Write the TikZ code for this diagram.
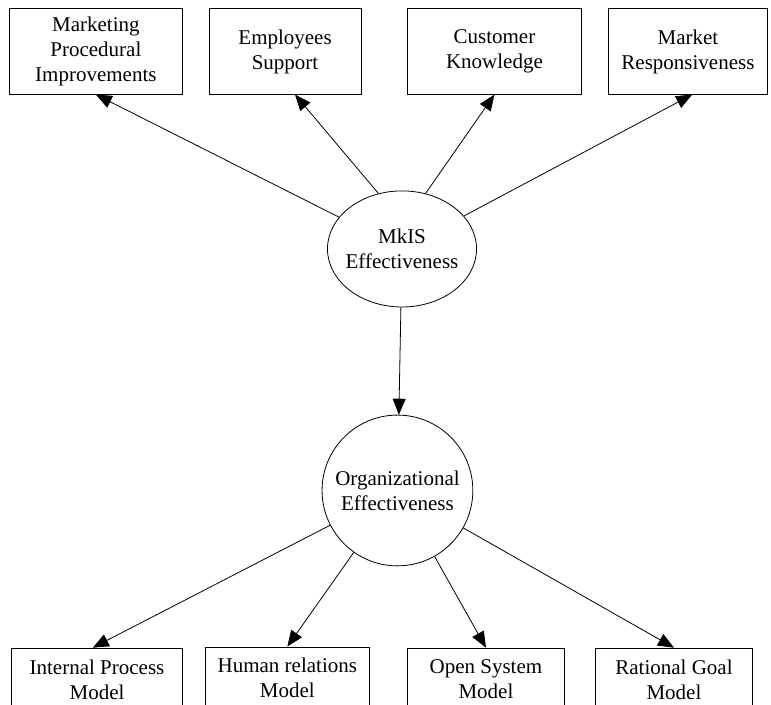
\documentclass[tikz,border=0pt]{standalone}
\usepackage{fontspec}
\setmainfont{Liberation Serif}
\usetikzlibrary{arrows.meta, shapes.geometric}

\begin{document}
\begin{tikzpicture}[every node/.style={font=\fontsize{21}{25}\selectfont, align=center}]
    \useasboundingbox (0,0) rectangle (27.10,-24.78);

    % Outcomes of MkIS
    \node[draw, thick, minimum width=6.1cm, minimum height=3cm] (proc) at (3.37,-1.81) {Marketing\\Procedural\\Improvements};
    \node[draw, thick, minimum width=5.35cm, minimum height=3cm] (empl) at (10.02,-1.81) {Employees\\Support};
    \node[draw, thick, minimum width=6.1cm, minimum height=3cm] (cust) at (17.38,-1.81) {Customer\\Knowledge};
    \node[draw, thick, minimum width=5.6cm, minimum height=3cm] (resp) at (24.18,-1.81) {Market\\Responsiveness};

    % MkIS
    \node[draw, thick, ellipse, minimum width=5.24cm, minimum height=4.08cm, inner sep=-5pt] (mkis) at (14.13,-8.75) {MkIS\\Effectiveness};

    % Organizational effectiveness
    \node[draw, thick, circle, minimum size=5.3cm, inner sep=0pt] (orgeff) at (13.97,-17.24) {Organizational\\Effectiveness};

    % Models
    \node[draw, thick, minimum width=6cm, minimum height=2.2cm] (intern) at (3.41,-23.88) {Internal Process\\Model};
    \node[draw, thick, minimum width=5.75cm, minimum height=2.2cm] (human) at (10.10,-23.84) {Human relations\\Model};
    \node[draw, thick, minimum width=5.5cm, minimum height=2.2cm] (open) at (17.08,-23.88) {Open System\\Model};
    \node[draw, thick, minimum width=5.5cm, minimum height=2.2cm] (goal) at (23.69,-23.88) {Rational Goal\\Model};

    % Arrows
    \draw[-{Triangle[length=16pt, width=13pt]}, thick] (mkis) -- (proc.south);
    \draw[-{Triangle[length=16pt, width=13pt]}, thick] (mkis.113) -- ([xshift=0.35cm]empl.south);
    \draw[-{Triangle[length=16pt, width=13pt]}, thick] (mkis.67) -- (cust.south);
    \draw[-{Triangle[length=16pt, width=13pt]}, thick] (mkis) -- ([xshift=0.15cm]resp.south);
    \draw[-{Triangle[length=16pt, width=13pt]}, thick] (mkis) -- (orgeff);
    \draw[-{Triangle[length=16pt, width=13pt]}, thick] (orgeff) -- ([xshift=-0.15cm]intern.north);
    \draw[-{Triangle[length=16pt, width=13pt]}, thick] (orgeff) -- (human.north);
    \draw[-{Triangle[length=16pt, width=13pt]}, thick] (orgeff) -- (open.north);
    \draw[-{Triangle[length=16pt, width=13pt]}, thick] (orgeff) -- (goal.north);
\end{tikzpicture}
\end{document}
